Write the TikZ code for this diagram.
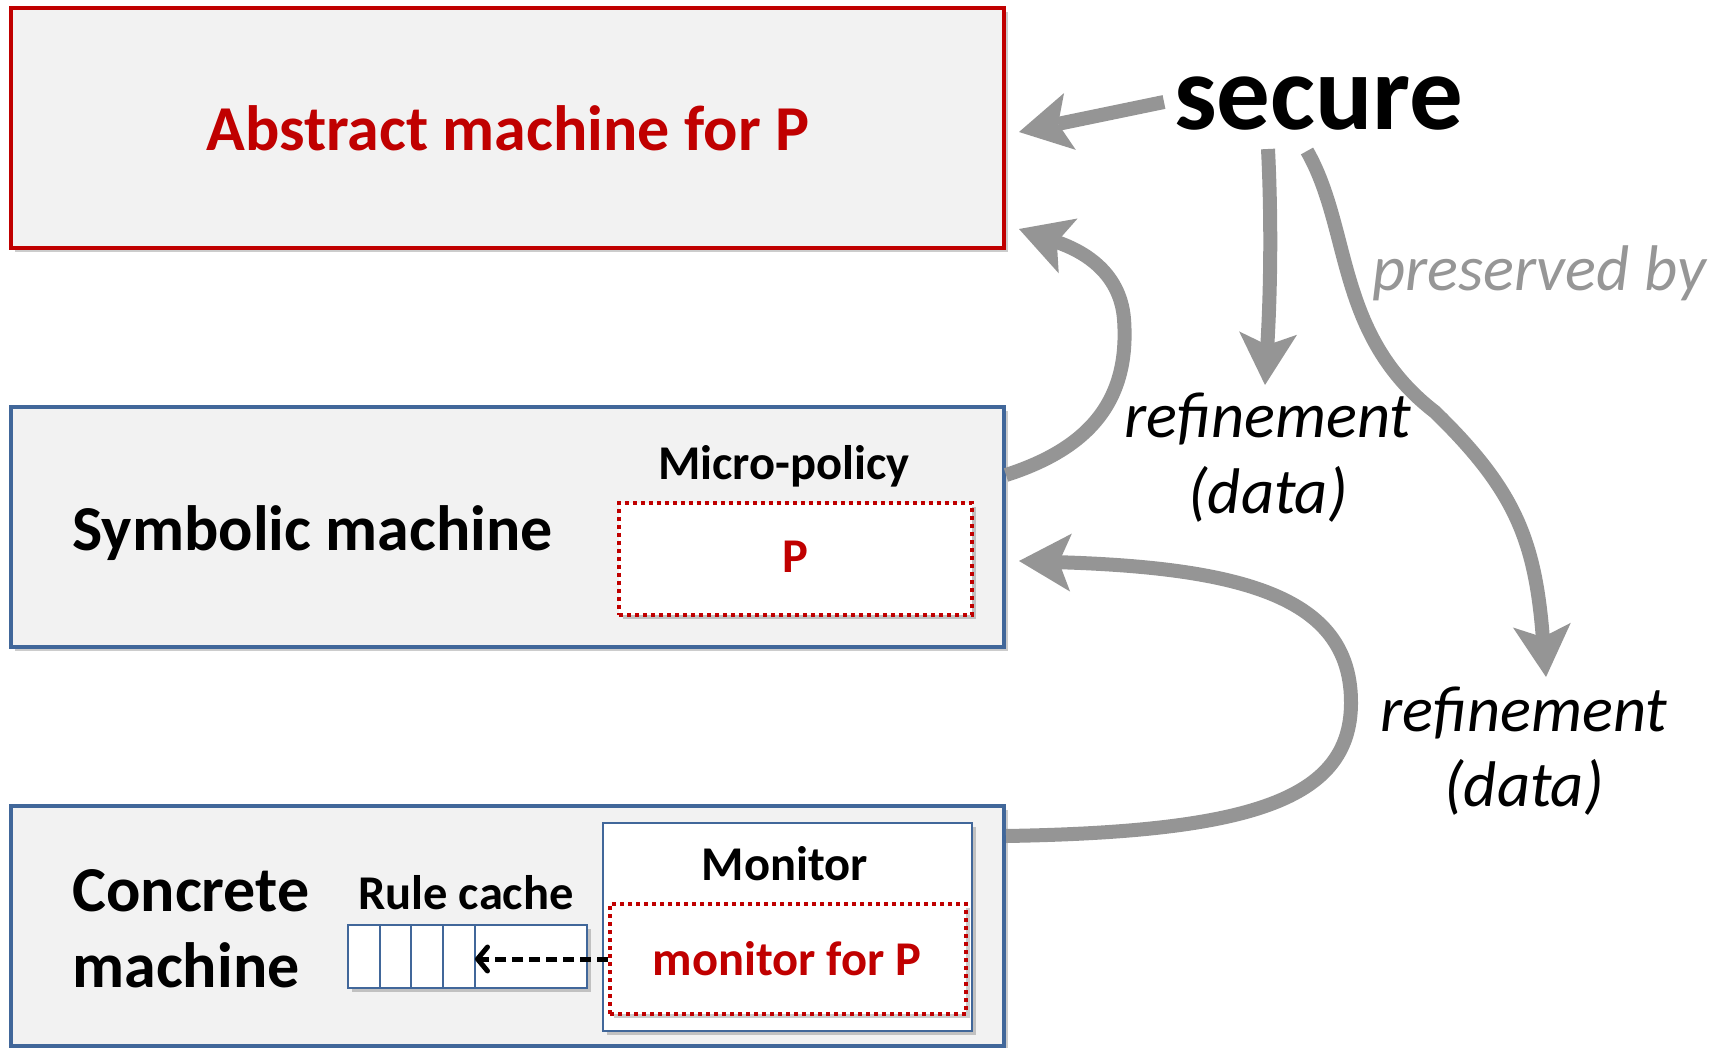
\documentclass[tikz,border=0pt]{standalone}
\usepackage{fontspec}
\setmainfont{Carlito}
\usetikzlibrary{arrows.meta,shadows}
\definecolor{boxred}{HTML}{C00000}
\definecolor{boxblue}{HTML}{41679A}
\definecolor{boxfill}{HTML}{F2F2F2}
\definecolor{arrowgray}{HTML}{959595}
\definecolor{textgray}{HTML}{969696}
\begin{document}
\begin{tikzpicture}[x=1pt,y=-1pt,
  shadowed/.style={drop shadow={shadow xshift=4pt,shadow yshift=-4pt,opacity=0.2,fill=black}},
  bigbox/.style={line width=4pt, fill=boxfill, minimum width=993pt, minimum height=240pt, inner sep=0pt, shadowed},
  abox/.style={bigbox, draw=boxred},
  mbox/.style={bigbox, draw=boxblue},
  dotbox/.style={draw=boxred, fill=white, line width=4pt, dash pattern=on 4pt off 4pt, inner sep=0pt, shadowed},
  thinbox/.style={draw=boxblue, fill=white, line width=2pt, inner sep=0pt, shadowed},
  bigtxt/.style={font=\fontsize{64}{76}\selectfont\bfseries},
  medtxt/.style={font=\fontsize{48.5}{58}\selectfont\bfseries},
  lbltxt/.style={font=\fontsize{64.5}{76}\selectfont\itshape},
  garrow/.style={draw=arrowgray, line width=14pt, -{Stealth[length=52pt,width=58pt,inset=12pt,line width=0pt]}},
  dasharrow/.style={draw=black, line width=5pt, dash pattern=on 11pt off 6pt, -{Straight Barb[round,length=10pt,width=24pt]}}
]
\useasboundingbox (0,0) rectangle (1725,1048);

% Abstract machine
\node[abox] (abstract) at (507.5,128) {};
\node[bigtxt, text=boxred, anchor=base] (abstracttxt) at (508,151) {Abstract machine for P};

% Symbolic machine
\node[mbox] (symbolic) at (507.5,527) {};
\node[bigtxt, anchor=base west] (symtxt) at (69,550) {Symbolic machine};
\node[medtxt, anchor=base] (microtxt) at (784,480) {Micro-policy};
\node[dotbox, minimum width=353pt, minimum height=112pt] (pbox) at (795.5,559) {};
\node[medtxt, text=boxred, anchor=base] (ptxt) at (795,572) {P};

% Concrete machine
\node[mbox] (concrete) at (507.5,926) {};
\node[bigtxt, anchor=base west] (conc1) at (69,911) {Concrete};
\node[bigtxt, anchor=base west] (conc2) at (69,987) {machine};
\node[medtxt, anchor=base] (rctxt) at (466,909) {Rule cache};
\node[thinbox, minimum width=239pt, minimum height=63pt] (rc) at (467.5,956.5) {};
\foreach \x in {380,411,443,475} \draw[boxblue, line width=2pt] (\x,925) -- (\x,988);
\coordinate (rcdiv) at (475,957);
\node[thinbox, minimum width=369pt, minimum height=208pt] (monitor) at (787.5,927) {};
\node[medtxt, anchor=base] (montxt) at (785,880) {Monitor};
\node[dotbox, minimum width=356pt, minimum height=110pt] (mfp) at (788,959) {};
\node[medtxt, text=boxred, anchor=base] (mfptxt) at (787,975) {monitor for P};
\draw[dasharrow] (mfp.west) -- (rcdiv |- mfp.west);

% Right-hand labels
\node[font=\fontsize{107}{124}\selectfont\bfseries, anchor=base] (secure) at (1319,130) {secure};
\node[lbltxt, text=textgray, anchor=base] (pres) at (1539,291) {preserved by};
\node[lbltxt, anchor=base] (ref1) at (1268,438) {refinement};
\node[lbltxt, anchor=base] (ref1b) at (1268,513) {(data)};
\node[lbltxt, anchor=base] (ref2) at (1524,731) {refinement};
\node[lbltxt, anchor=base] (ref2b) at (1524,806) {(data)};

% Arrows
\draw[garrow] ([shift={(-155,-28)}]secure.base) -- ([shift={(13,4)}]abstract.east);
\draw[garrow] ([shift={(0,-52)}]symbolic.east) .. controls (1090,448) and (1130,400) .. (1124,319)
  .. controls (1120,270) and (1080,250) .. ([shift={(13,101)}]abstract.east);
\draw[garrow] ([shift={(-51,19)}]secure.base) .. controls (1272,230) and (1270,300) .. ([shift={(-3,-53)}]ref1.base);
\draw[garrow] ([shift={(-12,21)}]secure.base) .. controls (1352,230) and (1335,335) .. (1435,412)
  .. controls (1515,490) and (1535,540) .. ([shift={(22,-54)}]ref2.base);
\draw[garrow] ([shift={(0,-90)}]concrete.east) .. controls (1250,832) and (1350,800) .. (1351,704)
  .. controls (1352,600) and (1250,568) .. ([shift={(13,34)}]symbolic.east);
\end{tikzpicture}
\end{document}
